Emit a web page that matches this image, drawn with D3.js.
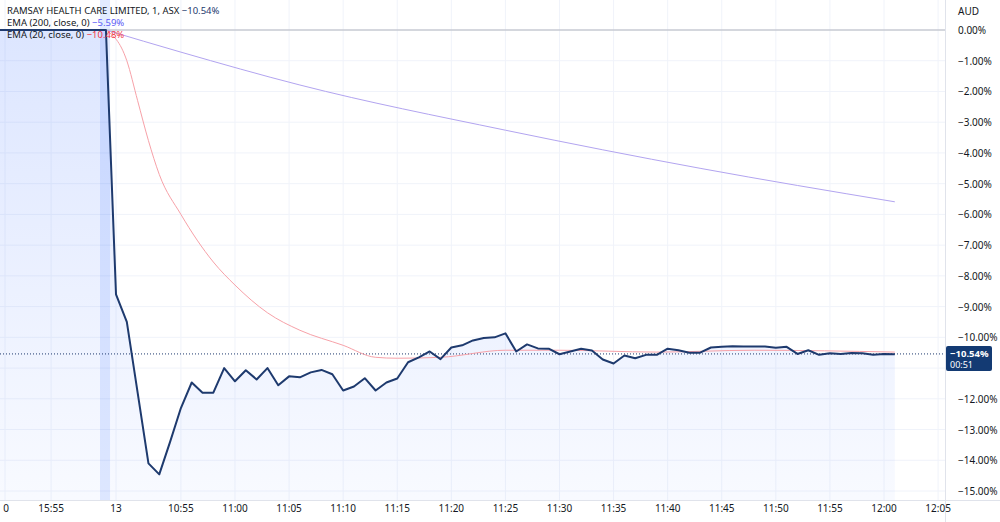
<!DOCTYPE html>
<html><head><meta charset="utf-8">
<script src="https://cdn.jsdelivr.net/npm/d3@7"></script>
<style>body{margin:0;background:#fff}svg{display:block;font-family:"Noto Sans",Roboto,sans-serif}</style>
</head><body><svg id="c" width="1000" height="522"></svg>
<script>
// minute index relative to 10:49 (first bar of session "13")
const prevIdx = [-10.75, -0.93];
const prevVals = [0, 0];
const closeVals = [-8.6,-9.5,-11.8,-14.1,-14.46,-13.4,-12.3,-11.47,-11.8,-11.8,
 -11.0,-11.43,-11.07,-11.37,-11.0,-11.56,-11.27,-11.3,-11.14,-11.06,
 -11.2,-11.73,-11.6,-11.33,-11.73,-11.47,-11.34,-10.81,-10.65,-10.46,
 -10.71,-10.33,-10.26,-10.1,-10.02,-10.0,-9.87,-10.46,-10.23,-10.36,
 -10.37,-10.55,-10.46,-10.37,-10.43,-10.72,-10.85,-10.59,-10.68,-10.57,
 -10.57,-10.37,-10.42,-10.5,-10.5,-10.33,-10.31,-10.29,-10.3,-10.3,
 -10.3,-10.34,-10.31,-10.54,-10.42,-10.57,-10.52,-10.54,-10.51,-10.52,
 -10.57,-10.54,-10.55];
const ema200Idx = [-0.93, 6, 17, 36, 54, 72];
const ema200Vals = [0, -0.72, -1.79, -3.26, -4.5, -5.59];
const ema20Idx = [-0.93, 1, 2, 3, 4, 6, 9, 11, 14, 17, 21, 24, 26, 30, 36, 41, 50, 59, 72];
const ema20Vals = [0, -1.0, -2.3, -3.6, -4.7, -6.0, -7.55, -8.3, -9.2, -9.77, -10.26, -10.65, -10.68, -10.65, -10.42, -10.42, -10.48, -10.42, -10.48];
const xTickIdx = [-10.26, -6.0, 0, 6, 11, 16, 21, 26, 31, 36, 41, 46, 51, 56, 61, 66, 71, 76];
const xTickLabels = ["0","15:55","13","10:55","11:00","11:05","11:10","11:15","11:20","11:25","11:30","11:35","11:40","11:45","11:50","11:55","12:00","12:05"];
const yTicks = d3.range(0, -16, -1);
const lastVal = -10.54;

const svg = d3.select("#c");
const W = 945, B = 500;
const x = d3.scaleLinear().domain([0, 71]).range([116, 884]);
const y = d3.scaleLinear().domain([0, -15]).range([30, 491]);

const defs = svg.append("defs");
const g = defs.append("linearGradient").attr("id","ag").attr("x1",0).attr("x2",0).attr("y1",0).attr("y2",1);
g.append("stop").attr("offset","0%").attr("stop-color","rgba(41,98,255,0.16)");
g.append("stop").attr("offset","100%").attr("stop-color","rgba(41,98,255,0.03)");
defs.append("clipPath").attr("id","cp").append("rect").attr("width",W).attr("height",B);

const plot = svg.append("g").attr("clip-path","url(#cp)");
plot.selectAll(".vg").data(xTickIdx).join("line").attr("x1",d=>x(d)).attr("x2",d=>x(d)).attr("y1",0).attr("y2",B).attr("stroke","#f0f3fa");
plot.selectAll(".hg").data(yTicks).join("line").attr("y1",d=>y(d)).attr("y2",d=>y(d)).attr("x1",0).attr("x2",W).attr("stroke","#f0f3fa");
plot.append("rect").attr("x",x(-1.48)).attr("width",x(-0.55)-x(-1.48)).attr("y",0).attr("height",B).attr("fill","rgba(41,98,255,0.13)");

const pts = prevIdx.map((d,i)=>[d,prevVals[i]]).concat(closeVals.map((v,i)=>[i,v]));
plot.append("path").datum(pts).attr("fill","url(#ag)")
  .attr("d", d3.area().x(d=>x(d[0])).y0(B).y1(d=>y(d[1])));
plot.append("line").attr("x1",0).attr("x2",W).attr("y1",y(0)).attr("y2",y(0)).attr("stroke","#b2b5be");
plot.append("line").attr("x1",0).attr("x2",W).attr("y1",y(lastVal)).attr("y2",y(lastVal)).attr("stroke","#1e3a6e").attr("stroke-dasharray","1,2");

const ln = d3.line().x(d=>x(d[0])).y(d=>y(d[1]));
const cl = d3.line().curve(d3.curveMonotoneX).x(d=>x(d[0])).y(d=>y(d[1]));
plot.append("path").datum(ema200Idx.map((d,i)=>[d,ema200Vals[i]])).attr("fill","none").attr("stroke","#b2a4f0").attr("d",cl);
plot.append("path").datum(ema20Idx.map((d,i)=>[d,ema20Vals[i]])).attr("fill","none").attr("stroke","#f7a1a8").attr("d",cl);
plot.append("path").datum(pts).attr("fill","none").attr("stroke","#1e3a6e").attr("stroke-width",2).attr("stroke-linejoin","round").attr("d",ln);

svg.append("line").attr("x1",W+0.5).attr("x2",W+0.5).attr("y1",0).attr("y2",522).attr("stroke","#e0e3eb");
svg.append("line").attr("x1",0).attr("x2",1000).attr("y1",B+0.5).attr("y2",B+0.5).attr("stroke","#e0e3eb");
svg.selectAll(".yl").data(yTicks.filter(d=>!(d<lastVal && y(d)-y(lastVal)<20))).join("text").attr("x",958).attr("y",d=>y(d)+4).attr("font-size",10).attr("fill","#131722")
  .text(d=>(d===0?"0.00":"\u2212"+Math.abs(d).toFixed(2))+"%");
svg.append("text").attr("x",958).attr("y",15).attr("font-size",10).attr("fill","#131722").text("AUD");
svg.selectAll(".xl").data(xTickIdx).join("text").attr("x",d=>Math.max(6,x(d))).attr("y",512).attr("text-anchor","middle").attr("font-size",10).attr("fill","#131722").text((d,i)=>xTickLabels[i]);

svg.append("rect").attr("x",W+1).attr("y",y(lastVal)-8).attr("width",46).attr("height",25).attr("rx",2).attr("fill","#133a73");
svg.append("text").attr("x",950).attr("y",y(lastVal)+3).attr("font-size",9.5).attr("font-weight","bold").attr("fill","#fff").text("\u221210.54%");
svg.append("text").attr("x",950).attr("y",y(lastVal)+14).attr("font-size",9).attr("fill","#fff").text("00:51");

const leg = [["RAMSAY HEALTH CARE LIMITED, 1, ASX","\u221210.54%","#1e3a6e",14],["EMA (200, close, 0)","\u22125.59%","#5b5bf5",26],["EMA (20, close, 0)","\u221210.48%","#f23645",38]];
leg.forEach(l=>{
  const t = svg.append("text").attr("x",7).attr("y",l[3]).attr("font-size",9.5).attr("fill","#131722");
  t.append("tspan").text(l[0]+"  ");
  t.append("tspan").attr("fill",l[2]).text(l[1]);
});
</script></body></html>
